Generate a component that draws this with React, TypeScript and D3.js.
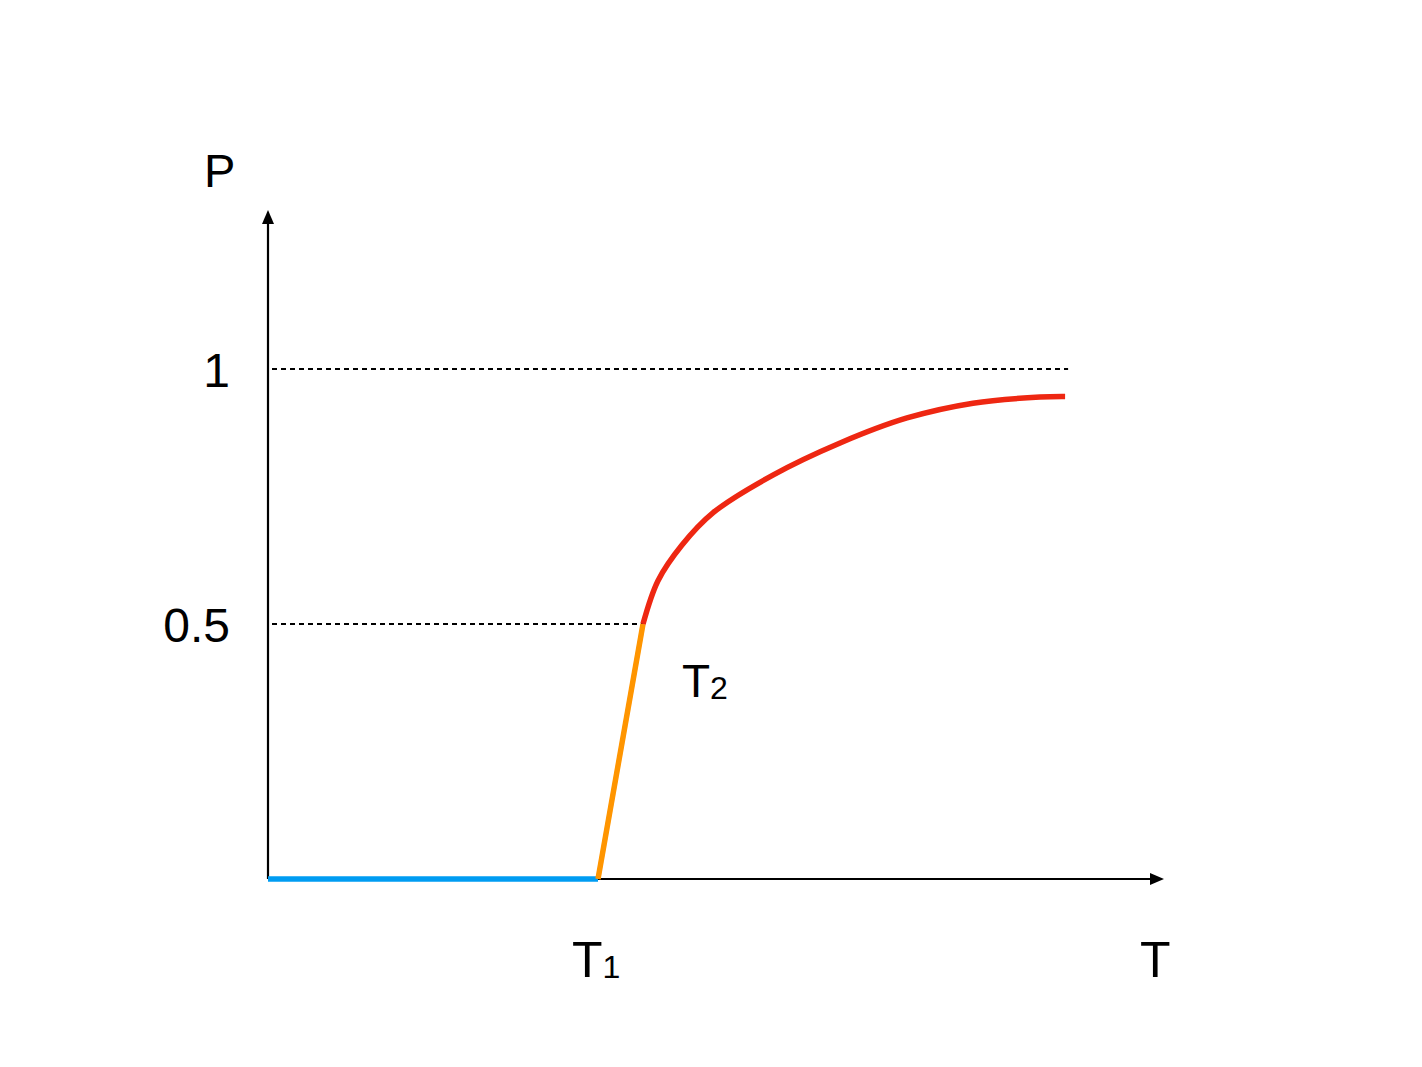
import React from "react";
import * as d3 from "d3";

// ---- data ----
const tickValues = [0.5, 1];
const tickLabels = ["0.5", "1"];
const T1 = 11;
const T2 = 12.5;
const dashEndT = 26.67;
const blueT = [0, T1];
const blueP = [0, 0];
const orangeT = [T1, T2];
const orangeP = [0, 0.5];
const redT = [12.5, 13.0, 13.8, 14.83, 16.83, 19.07, 21.3, 23.5, 25.73, 26.57];
const redP = [0.5, 0.585, 0.655, 0.718, 0.792, 0.855, 0.904, 0.933, 0.945, 0.946];

const W = 1422;
const H = 1067;
const FONT = "'Liberation Sans', Arial, Helvetica, sans-serif";

export default function App() {
  const x = d3.scaleLinear().domain([0, 30]).range([268, 1168]);
  const y = d3.scaleLinear().domain([0, 1]).range([879, 369]);

  const line = d3
    .line<[number, number]>()
    .x((d) => x(d[0]))
    .y((d) => y(d[1]));
  const curve = d3
    .line<[number, number]>()
    .x((d) => x(d[0]))
    .y((d) => y(d[1]))
    .curve(d3.curveCatmullRom.alpha(0.5));

  const blue = blueT.map((t, i) => [t, blueP[i]] as [number, number]);
  const orange = orangeT.map((t, i) => [t, orangeP[i]] as [number, number]);
  const red = redT.map((t, i) => [t, redP[i]] as [number, number]);

  const x0 = x(0);
  const y0 = y(0);
  const yTip = 210;
  const xTip = 1164;

  return (
    <svg
      width={W}
      height={H}
      style={{ position: "absolute", left: 0, top: 0, background: "#fff" }}
    >
      {/* dashed reference lines */}
      <line x1={x0 + 4} x2={x(dashEndT)} y1={y(1)} y2={y(1)} stroke="#000" strokeWidth={2} strokeDasharray="5,4" />
      <line x1={x0 + 4} x2={x(T2)} y1={y(0.5)} y2={y(0.5)} stroke="#000" strokeWidth={2} strokeDasharray="5,4" />

      {/* axes */}
      <line x1={x0} x2={x0} y1={y0} y2={yTip + 12} stroke="#000" strokeWidth={2.2} />
      <path d={`M${x0},${yTip} L${x0 - 6},${yTip + 14} L${x0 + 6},${yTip + 14} Z`} fill="#000" />
      <line x1={x0} x2={xTip - 12} y1={y0} y2={y0} stroke="#000" strokeWidth={2.2} />
      <path d={`M${xTip},${y0} L${xTip - 14},${y0 - 6} L${xTip - 14},${y0 + 6} Z`} fill="#000" />

      {/* curves */}
      <path d={line(blue) || ""} stroke="#009cf2" strokeWidth={5.5} fill="none" />
      <path d={line(orange) || ""} stroke="#ff9500" strokeWidth={5.5} fill="none" />
      <path d={curve(red) || ""} stroke="#ee2712" strokeWidth={5.5} fill="none" />

      {/* tick labels */}
      {tickValues.map((v, i) => (
        <text
          key={v}
          x={230}
          y={y(v) + 18}
          textAnchor="end"
          fontFamily={FONT}
          fontSize={48}
          fill="#000"
        >
          {tickLabels[i]}
        </text>
      ))}

      {/* axis labels */}
      <text x={204} y={187} fontFamily={FONT} fontSize={47} fill="#000">P</text>
      <text x={1140} y={977} fontFamily={FONT} fontSize={50} fill="#000">T</text>

      <text x={x(T1) - 26} y={977} fontFamily={FONT} fontSize={50} fill="#000">
        T<tspan fontSize={32} dy={1}>1</tspan>
      </text>
      <text x={682} y={697} fontFamily={FONT} fontSize={46} fill="#000">
        T<tspan fontSize={32} dy={2}>2</tspan>
      </text>
    </svg>
  );
}
